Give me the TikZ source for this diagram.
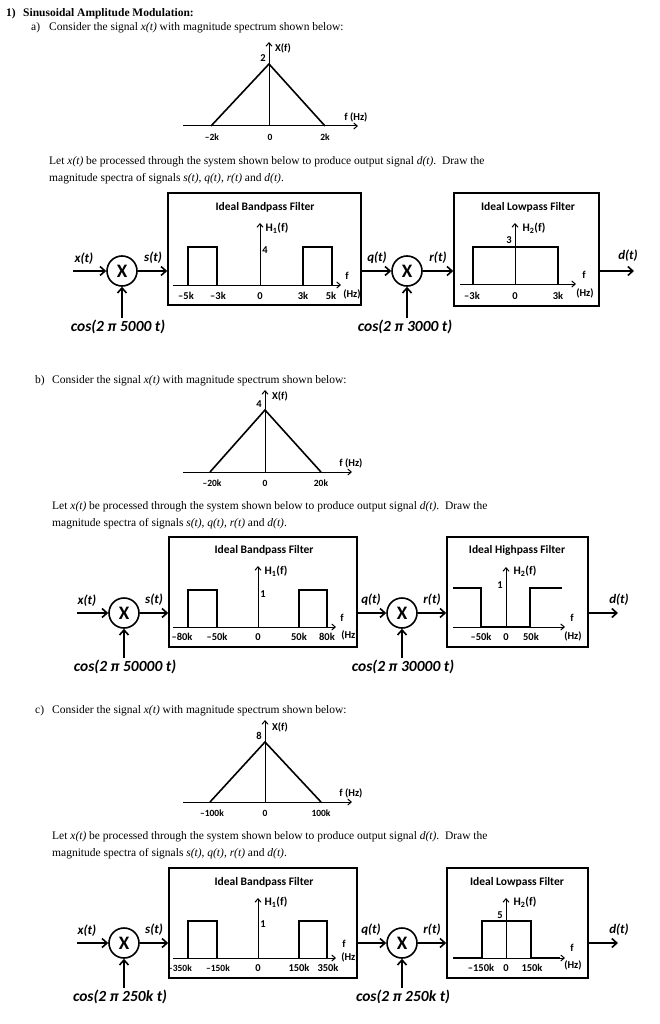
\documentclass[tikz,border=0pt]{standalone}
\usepackage{fontspec}
\setmainfont{Liberation Serif}
\newfontfamily\carl{Carlito}
\usetikzlibrary{positioning,arrows.meta,calc}
\tikzset{
  para/.style={anchor=base west,inner sep=0pt,font=\fontsize{11.5}{14}\selectfont},
  head/.style={anchor=base west,inner sep=0pt,font=\fontsize{11.5}{14}\selectfont\bfseries},
  fbox/.style={rectangle,draw,line width=1.6pt,inner sep=0pt},
  mult/.style={circle,draw,line width=1.6pt,minimum size=30pt,inner sep=0pt,
    font=\carl\bfseries\fontsize{19}{19}\selectfont},
  sig/.style={-{Straight Barb[length=5pt,width=9pt]},line width=1.6pt},
  ax/.style={-{Straight Barb[length=3.5pt,width=6pt]},line width=1pt},
  resp/.style={line width=1.6pt},
  slbl/.style={inner sep=0pt,font=\carl\bfseries\itshape\fontsize{13}{13}\selectfont},
  carrier/.style={inner sep=0pt,font=\carl\bfseries\itshape\fontsize{15.5}{16}\selectfont},
  ftitle/.style={inner sep=0pt,font=\carl\bfseries\fontsize{11.5}{12}\selectfont},
  tk/.style={inner sep=0pt,font=\carl\bfseries\fontsize{10.5}{11}\selectfont},
  hl/.style={inner sep=0pt,font=\carl\bfseries\fontsize{11.5}{12}\selectfont},
  stk/.style={inner sep=0pt,font=\carl\bfseries\fontsize{9.5}{10}\selectfont},
}
\begin{document}
\begin{tikzpicture}[x=1pt,y=-1pt]
  \useasboundingbox (0,0) rectangle (659,1024);
  \node[head] (hdn) at (6,16.5) {1)};
  \node[head] (hd) at (23,16.5) {Sinusoidal Amplitude Modulation:};

  % ---------- part a ----------
  \node[para] (pan) at (31,31) {a)};
  \node[para] (pat) at (49,31) {Consider the signal \textit{x(t)} with magnitude spectrum shown below:};
  \draw[ax] (183,126) -- (358,126);
  \draw[ax] (269,126) -- (269,42);
  \draw[resp] (211,126) -- (269,64) -- (325,126);
  \node[tk] (xfa) at (283,48) {X(f)};
  \node[tk] (pka) at (263,58) {2};
  \node[tk] (fa) at (356,117) {f (Hz)};
  \node[stk] (xa1) at (212,137) {–2k};
  \node[stk] (xa2) at (270,137) {0};
  \node[stk] (xa3) at (325,137) {2k};
  \node[para] (la1) at (49,165) {Let \textit{x(t)} be processed through the system shown below to produce output signal \textit{d(t)}.\ \ Draw the};
  \node[para] (la2) at (49,182) {magnitude spectra of signals \textit{s(t)}, \textit{q(t)}, \textit{r(t)} and \textit{d(t)}.};

  % system a
  \node[fbox,minimum width=193pt,minimum height=112pt] (bpa) at (264.5,249) {};
  \node[fbox,minimum width=145pt,minimum height=113pt] (lpa) at (526.5,249.5) {};
  \node[mult] (ma1) at (122,271) {X};
  \node[mult] (ma2) at (407,271) {X};
  \coordinate (ina) at (73,271);
  \coordinate (outa) at (634,271);
  \node[carrier] (ca1) at (118,327) {cos(2 π 5000 t)};
  \node[carrier] (ca2) at (405,327) {cos(2 π 3000 t)};
  \node[slbl] (sxa) at (84,259) {x(t)};
  \node[slbl] (ssa) at (153,258) {s(t)};
  \node[slbl] (sqa) at (377,258) {q(t)};
  \node[slbl] (sra) at (438,258) {r(t)};
  \node[slbl] (sda) at (628,256) {d(t)};
  \draw[sig] (ina) -- (ma1.west);
  \draw[sig] (ma1.east) -- (ma1.east -| bpa.west);
  \draw[sig] (ma2.west -| bpa.east) -- (ma2.west);
  \draw[sig] (ma2.east) -- (ma2.east -| lpa.west);
  \draw[sig] (outa -| lpa.east) -- (outa);
  \draw[sig] ([yshift=2pt]ca1.north -| ma1) -- (ma1.south);
  \draw[sig] ([yshift=2pt]ca2.north -| ma2) -- (ma2.south);
  % bandpass a
  \node[ftitle] (bta) at (265,207) {Ideal Bandpass Filter};
  \draw[ax] (173,285) -- (341,285);
  \draw[ax] (260,285) -- (260,223);
  \draw[resp] (188,285) |- (217,247) -- (217,285);
  \draw[resp] (303,285) |- (332,247) -- (332,285);
  \node[hl] (hba) at (277,228) {H\textsubscript{1}(f)};
  \node[tk] (gba) at (265,250) {4};
  \node[tk] (ba1) at (186,296) {–5k};
  \node[tk] (ba2) at (218,296) {–3k};
  \node[tk] (ba3) at (260,296) {0};
  \node[tk] (ba4) at (303,296) {3k};
  \node[tk] (ba5) at (331,296) {5k};
  \node[tk] (bfa) at (347,276) {f};
  \node[tk] (bza) at (352,294) {(Hz)};
  % lowpass a
  \node[ftitle] (lta) at (528,207) {Ideal Lowpass Filter};
  \draw[ax] (460,284) -- (576,284);
  \draw[ax] (515,284) -- (515,223);
  \draw[resp] (473,284) |- (558,247) -- (558,284);
  \node[hl] (hla) at (534,228) {H\textsubscript{2}(f)};
  \node[tk] (gla) at (509,240) {3};
  \node[tk] (la3k) at (472,296) {–3k};
  \node[tk] (la0) at (515,296) {0};
  \node[tk] (lap) at (558,296) {3k};
  \node[tk] (lfa) at (584,275) {f};
  \node[tk] (lza) at (585,293) {(Hz)};

  % ---------- part b ----------
  \node[para] (pbn) at (35,383) {b)};
  \node[para] (pbt) at (52,383) {Consider the signal \textit{x(t)} with magnitude spectrum shown below:};
  \draw[ax] (183,472) -- (352,472);
  \draw[ax] (265,472) -- (265,390);
  \draw[resp] (210,472) -- (265,410) -- (321,472);
  \node[tk] (xfb) at (280,396) {X(f)};
  \node[tk] (pkb) at (259,404) {4};
  \node[tk] (fb) at (351,463) {f (Hz)};
  \node[stk] (xb1) at (212,483) {–20k};
  \node[stk] (xb2) at (265,483) {0};
  \node[stk] (xb3) at (321,483) {20k};
  \node[para] (lb1) at (52,509) {Let \textit{x(t)} be processed through the system shown below to produce output signal \textit{d(t)}.\ \ Draw the};
  \node[para] (lb2) at (52,526) {magnitude spectra of signals \textit{s(t)}, \textit{q(t)}, \textit{r(t)} and \textit{d(t)}.};

  % system b
  \node[fbox,minimum width=188pt,minimum height=110pt] (bpb) at (263,592) {};
  \node[fbox,minimum width=141pt,minimum height=110pt] (hpb) at (517.5,592) {};
  \node[mult] (mb1) at (124,613) {X};
  \node[mult] (mb2) at (402,613) {X};
  \coordinate (inb) at (77,613);
  \coordinate (outb) at (618,613);
  \node[carrier] (cb1) at (125,667) {cos(2 π 50000 t)};
  \node[carrier] (cb2) at (403,667) {cos(2 π 30000 t)};
  \node[slbl] (sxb) at (87,601) {x(t)};
  \node[slbl] (ssb) at (154,600) {s(t)};
  \node[slbl] (sqb) at (371,600) {q(t)};
  \node[slbl] (srb) at (432,600) {r(t)};
  \node[slbl] (sdb) at (619,600) {d(t)};
  \draw[sig] (inb) -- (mb1.west);
  \draw[sig] (mb1.east) -- (mb1.east -| bpb.west);
  \draw[sig] (mb2.west -| bpb.east) -- (mb2.west);
  \draw[sig] (mb2.east) -- (mb2.east -| hpb.west);
  \draw[sig] (outb -| hpb.east) -- (outb);
  \draw[sig] ([yshift=2pt]cb1.north -| mb1) -- (mb1.south);
  \draw[sig] ([yshift=2pt]cb2.north -| mb2) -- (mb2.south);
  % bandpass b
  \node[ftitle] (btb) at (264,550) {Ideal Bandpass Filter};
  \draw[ax] (173,627) -- (336,627);
  \draw[ax] (258,627) -- (258,566);
  \draw[resp] (188,627) |- (217,590) -- (217,627);
  \draw[resp] (299,627) |- (327,590) -- (327,627);
  \node[hl] (hbb) at (276,571) {H\textsubscript{1}(f)};
  \node[tk] (gbb) at (263,594) {1};
  \node[tk] (bb1) at (182,637) {–80k};
  \node[tk] (bb2) at (217,637) {–50k};
  \node[tk] (bb3) at (258,637) {0};
  \node[tk] (bb4) at (299,637) {50k};
  \node[tk] (bb5) at (327,637) {80k};
  \node[tk] (bfb) at (342,618) {f};
  \node[tk] (bzb) at (350,635) {(Hz)};
  % highpass b
  \node[ftitle] (htb) at (517,550) {Ideal Highpass Filter};
  \draw[ax] (453,627) -- (565,627);
  \draw[ax] (506,627) -- (506,567);
  \draw[resp] (453,588) -| (481,627) -- (530,627) |- (562,588);
  \node[hl] (hhb) at (525,571) {H\textsubscript{2}(f)};
  \node[tk] (ghb) at (500,585) {1};
  \node[tk] (hb1) at (481,637) {–50k};
  \node[tk] (hb2) at (506,637) {0};
  \node[tk] (hb3) at (531,637) {50k};
  \node[tk] (hfb) at (572,618) {f};
  \node[tk] (hzb) at (573,636) {(Hz)};

  % ---------- part c ----------
  \node[para] (pcn) at (35,713) {c)};
  \node[para] (pct) at (52,713) {Consider the signal \textit{x(t)} with magnitude spectrum shown below:};
  \draw[ax] (183,802) -- (352,802);
  \draw[ax] (265,802) -- (265,720);
  \draw[resp] (210,802) -- (265,742) -- (321,802);
  \node[tk] (xfc) at (280,727) {X(f)};
  \node[tk] (pkc) at (259,736) {8};
  \node[tk] (fc) at (351,793) {f (Hz)};
  \node[stk] (xc1) at (212,813) {–100k};
  \node[stk] (xc2) at (265,813) {0};
  \node[stk] (xc3) at (321,813) {100k};
  \node[para] (lc1) at (52,839) {Let \textit{x(t)} be processed through the system shown below to produce output signal \textit{d(t)}.\ \ Draw the};
  \node[para] (lc2) at (52,856) {magnitude spectra of signals \textit{s(t)}, \textit{q(t)}, \textit{r(t)} and \textit{d(t)}.};

  % system c
  \node[fbox,minimum width=188pt,minimum height=110pt] (bpc) at (263,923) {};
  \node[fbox,minimum width=141pt,minimum height=110pt] (lpc) at (517.5,923) {};
  \node[mult] (mc1) at (124,943) {X};
  \node[mult] (mc2) at (402,943) {X};
  \coordinate (inc) at (77,943);
  \coordinate (outc) at (618,943);
  \node[carrier] (cc1) at (120,997) {cos(2 π 250k t)};
  \node[carrier] (cc2) at (403,997) {cos(2 π 250k t)};
  \node[slbl] (sxc) at (87,931) {x(t)};
  \node[slbl] (ssc) at (154,930) {s(t)};
  \node[slbl] (sqc) at (371,930) {q(t)};
  \node[slbl] (src) at (432,930) {r(t)};
  \node[slbl] (sdc) at (619,930) {d(t)};
  \draw[sig] (inc) -- (mc1.west);
  \draw[sig] (mc1.east) -- (mc1.east -| bpc.west);
  \draw[sig] (mc2.west -| bpc.east) -- (mc2.west);
  \draw[sig] (mc2.east) -- (mc2.east -| lpc.west);
  \draw[sig] (outc -| lpc.east) -- (outc);
  \draw[sig] ([yshift=2pt]cc1.north -| mc1) -- (mc1.south);
  \draw[sig] ([yshift=2pt]cc2.north -| mc2) -- (mc2.south);
  % bandpass c
  \node[ftitle] (btc) at (264,882) {Ideal Bandpass Filter};
  \draw[ax] (173,958) -- (336,958);
  \draw[ax] (258,958) -- (258,898);
  \draw[resp] (188,958) |- (217,921) -- (217,958);
  \draw[resp] (299,958) |- (327,921) -- (327,958);
  \node[hl] (hbc) at (276,902) {H\textsubscript{1}(f)};
  \node[tk] (gbc) at (263,924) {1};
  \node[stk] (bc1) at (180,968) {–350k};
  \node[stk] (bc2) at (218,968) {–150k};
  \node[tk] (bc3) at (258,968) {0};
  \node[tk] (bc4) at (299,968) {150k};
  \node[tk] (bc5) at (328,968) {350k};
  \node[tk] (bfc) at (344,944) {f};
  \node[tk] (bzc) at (350,957) {(Hz)};
  % lowpass c
  \node[ftitle] (ltc) at (517,882) {Ideal Lowpass Filter};
  \draw[ax] (453,958) -- (565,958);
  \draw[ax] (506,958) -- (506,898);
  \draw[resp] (453,958) -- (482,958) |- (531,921) -- (531,958) -- (560,958);
  \node[hl] (hlc) at (525,902) {H\textsubscript{2}(f)};
  \node[tk] (glc) at (500,915) {5};
  \node[tk] (lc1k) at (481,968) {–150k};
  \node[tk] (lc0) at (506,968) {0};
  \node[tk] (lcp) at (532,968) {150k};
  \node[tk] (lfc) at (572,948) {f};
  \node[tk] (lzc) at (573,965) {(Hz)};
\end{tikzpicture}
\end{document}
